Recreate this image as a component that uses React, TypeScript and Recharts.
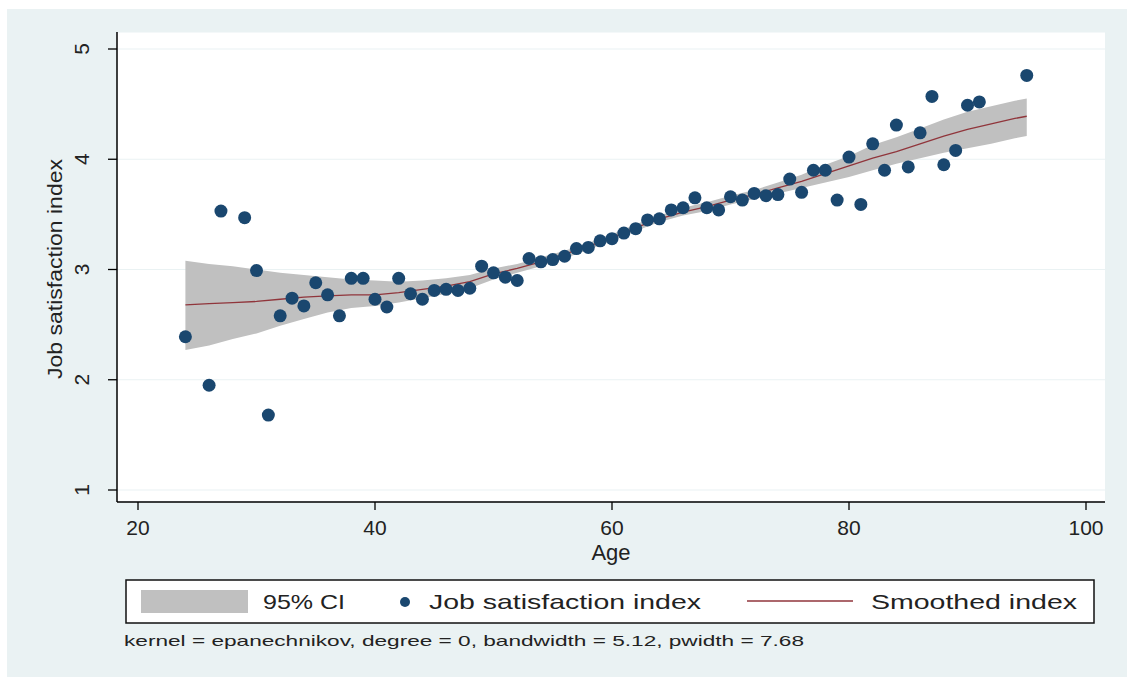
import React from 'react';
import { ComposedChart, Scatter, Line, Area, XAxis, YAxis, CartesianGrid } from 'recharts';

const ages = [24, 26, 27, 29, 30, 31, 32, 33, 34, 35, 36, 37, 38, 39, 40, 41, 42, 43, 44, 45, 46, 47, 48, 49, 50, 51, 52, 53, 54, 55, 56, 57, 58, 59, 60, 61, 62, 63, 64, 65, 66, 67, 68, 69, 70, 71, 72, 73, 74, 75, 76, 77, 78, 79, 80, 81, 82, 83, 84, 85, 86, 87, 88, 89, 90, 91, 95];
const satisfaction = [2.39, 1.95, 3.53, 3.47, 2.99, 1.68, 2.58, 2.74, 2.67, 2.88, 2.77, 2.58, 2.92, 2.92, 2.73, 2.66, 2.92, 2.78, 2.73, 2.81, 2.82, 2.81, 2.83, 3.03, 2.97, 2.93, 2.9, 3.1, 3.07, 3.09, 3.12, 3.19, 3.2, 3.26, 3.28, 3.33, 3.37, 3.45, 3.46, 3.54, 3.56, 3.65, 3.56, 3.54, 3.66, 3.63, 3.69, 3.67, 3.68, 3.82, 3.7, 3.9, 3.9, 3.63, 4.02, 3.59, 4.14, 3.9, 4.31, 3.93, 4.24, 4.57, 3.95, 4.08, 4.49, 4.52, 4.76];

const smoothAges = [24, 26, 28, 30, 32, 34, 36, 38, 40, 42, 44, 46, 48, 50, 52, 54, 56, 58, 60, 62, 64, 66, 68, 70, 72, 74, 76, 78, 80, 82, 84, 86, 88, 90, 92, 94, 95];
const smoothIndex = [2.68, 2.69, 2.7, 2.71, 2.73, 2.75, 2.76, 2.77, 2.77, 2.79, 2.82, 2.85, 2.89, 2.96, 3.01, 3.07, 3.14, 3.21, 3.29, 3.38, 3.46, 3.52, 3.57, 3.63, 3.68, 3.74, 3.8, 3.87, 3.94, 4.01, 4.07, 4.14, 4.21, 4.27, 4.32, 4.37, 4.39];
const ciLow = [2.27, 2.31, 2.37, 2.42, 2.49, 2.55, 2.61, 2.65, 2.67, 2.7, 2.74, 2.78, 2.83, 2.91, 2.97, 3.03, 3.1, 3.18, 3.26, 3.35, 3.43, 3.49, 3.53, 3.59, 3.64, 3.69, 3.74, 3.79, 3.84, 3.9, 3.96, 4.01, 4.06, 4.1, 4.14, 4.19, 4.21];
const ciHigh = [3.08, 3.05, 3.03, 3.0, 2.97, 2.95, 2.93, 2.91, 2.9, 2.89, 2.9, 2.92, 2.95, 3.01, 3.05, 3.11, 3.17, 3.24, 3.32, 3.41, 3.49, 3.56, 3.61, 3.67, 3.72, 3.79, 3.86, 3.95, 4.03, 4.13, 4.2, 4.28, 4.36, 4.43, 4.48, 4.53, 4.55];

const xTicks = [20, 40, 60, 80, 100];
const yTicks = [1, 2, 3, 4, 5];

const legendLabels = ['95% CI', 'Job satisfaction index', 'Smoothed index'];
const noteText = 'kernel = epanechnikov, degree = 0, bandwidth = 5.12, pwidth = 7.68';
const xTitle = 'Age';
const yTitle = 'Job satisfaction index';

const pointData = ages.map((a, i) => ({ age: a, sat: satisfaction[i] }));
const smoothData = smoothAges.map((a, i) => ({ age: a, smooth: smoothIndex[i], ci: [ciLow[i], ciHigh[i]] }));

const FONT = '"Liberation Sans", Arial, sans-serif';
const BG = '#EAF2F3';
const NAVY = '#1A476F';
const MAROON = '#90353B';
const CIGRAY = '#C0C0C0';

const XTick = (props: any) => {
  const { x, payload } = props;
  return (
    <text x={x} y={535} textAnchor="middle" fontFamily={FONT} fontSize={21} fill="#222">
      {payload.value}
    </text>
  );
};

const YTick = (props: any) => {
  const { y, payload } = props;
  const bx = 89;
  return (
    <text x={bx} y={y} transform={`rotate(-90 ${bx} ${y})`} textAnchor="middle" fontFamily={FONT} fontSize={21} fill="#222">
      {payload.value}
    </text>
  );
};

const Dot = (props: any) => {
  const { cx, cy } = props;
  if (cx == null || cy == null) return null;
  return <circle cx={cx} cy={cy} r={6.5} fill={NAVY} />;
};

export default function App() {
  return (
    <div style={{ position: 'absolute', left: 0, top: 0, width: 1127, height: 677, background: '#fff', overflow: 'hidden' }}>
      <div style={{ position: 'absolute', left: 7, top: 9, width: 1120, height: 668, background: BG }} />
      <div style={{ position: 'absolute', left: 0, top: 0 }}>
        <ComposedChart width={1127} height={677} margin={{ top: 32, right: 22, bottom: 115, left: 37 }}>
          <CartesianGrid horizontal vertical={false} fill="#ffffff" stroke={BG} strokeWidth={1.2} />
          <XAxis
            type="number"
            dataKey="age"
            domain={[20, 100]}
            ticks={xTicks}
            padding={{ left: 21, right: 19 }}
            height={60}
            tickSize={8}
            tickLine={{ stroke: '#000', strokeWidth: 1.3 }}
            axisLine={{ stroke: '#000', strokeWidth: 1.5 }}
            tick={<XTick />}
            allowDataOverflow
          />
          <YAxis
            type="number"
            domain={[1, 5]}
            ticks={yTicks}
            padding={{ top: 17, bottom: 12 }}
            width={80}
            tickSize={9}
            tickLine={{ stroke: '#000', strokeWidth: 1.3 }}
            axisLine={{ stroke: '#000', strokeWidth: 1.5 }}
            tick={<YTick />}
            allowDataOverflow
          />
          <Area
            data={smoothData}
            dataKey="ci"
            type="linear"
            stroke="none"
            fill={CIGRAY}
            fillOpacity={1}
            isAnimationActive={false}
          />
          <Scatter data={pointData} dataKey="sat" shape={<Dot />} isAnimationActive={false} />
          <Line
            data={smoothData}
            dataKey="smooth"
            type="linear"
            stroke={MAROON}
            strokeWidth={1.3}
            dot={false}
            activeDot={false}
            isAnimationActive={false}
          />
        </ComposedChart>
      </div>
      <svg style={{ position: 'absolute', left: 0, top: 0 }} width={1127} height={677}>
        <text x={62} y={269} transform="rotate(-90 62 269)" textAnchor="middle" fontFamily={FONT} fontSize={21} fill="#222" textLength={220} lengthAdjust="spacingAndGlyphs">
          {yTitle}
        </text>
        <text x={611} y={560} textAnchor="middle" fontFamily={FONT} fontSize={22} fill="#222">
          {xTitle}
        </text>
        <rect x={126} y={580} width={968} height={43} fill="#fff" stroke="#111" strokeWidth={1.5} />
        <rect x={141} y={590} width={107} height={23} fill={CIGRAY} />
        <text x={263} y={609} fontFamily={FONT} fontSize={21} fill="#222" textLength={82} lengthAdjust="spacingAndGlyphs">
          {legendLabels[0]}
        </text>
        <circle cx={405} cy={602} r={5} fill={NAVY} />
        <text x={429} y={609} fontFamily={FONT} fontSize={21} fill="#222" textLength={272} lengthAdjust="spacingAndGlyphs">
          {legendLabels[1]}
        </text>
        <line x1={747} y1={601} x2={853} y2={601} stroke={MAROON} strokeWidth={1.3} />
        <text x={871} y={609} fontFamily={FONT} fontSize={21} fill="#222" textLength={206} lengthAdjust="spacingAndGlyphs">
          {legendLabels[2]}
        </text>
        <text x={124} y={646} fontFamily={FONT} fontSize={15} fill="#222" textLength={680} lengthAdjust="spacingAndGlyphs">
          {noteText}
        </text>
      </svg>
    </div>
  );
}
